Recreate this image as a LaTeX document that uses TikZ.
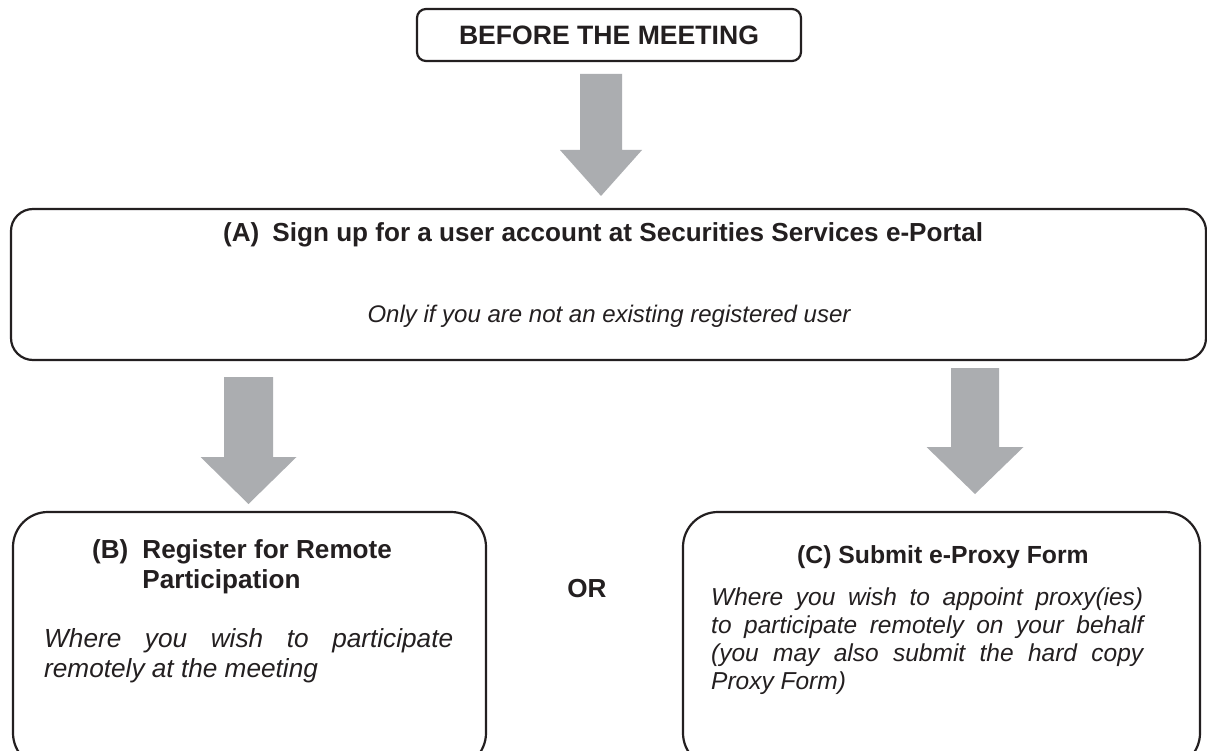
\documentclass[tikz,border=0pt]{standalone}
\usepackage{fontspec}
\setmainfont{Liberation Sans}
\usetikzlibrary{calc}

\definecolor{inkline}{RGB}{35,31,32}
\definecolor{arrowgrey}{RGB}{171,173,176}

\tikzset{
	stage/.style={draw=inkline,line width=2.2pt,rounded corners=#1,inner sep=0pt},
	stage/.default=20pt,
	title/.style={font=\fontsize{26.1}{30}\selectfont\bfseries,text=inkline,inner sep=0pt},
	note/.style={font=\fontsize{24.5}{30}\selectfont\itshape,text=inkline,inner sep=0pt},
}

\newcommand\blockarrow[5]{%
	\fill[arrowgrey] ($(#1)+(-#3,0)$) -- ($(#1)+(#3,0)$) -- ($(#2)+(#3,-#5)$) -- ($(#2)+(#4,-#5)$)
		-- (#2) -- ($(#2)+(-#4,-#5)$) -- ($(#2)+(-#3,-#5)$) -- cycle;}

\begin{document}
\begin{tikzpicture}[x=1pt,y=-1pt]
	\path[use as bounding box,fill=white] (0,0) rectangle (1207,751);
	\clip (0,0) rectangle (1207,751);
	\node[stage=9pt,title,font=\fontsize{26.6}{30}\selectfont\bfseries,minimum width=384pt,minimum height=52pt] (before) at (609,35) {BEFORE THE MEETING};
	\node[stage=22pt,minimum width=1195pt,minimum height=151pt] (signup) at (608.5,284.5) {};
	\node[stage=35pt,minimum width=473pt,minimum height=256pt] (remote) at (249.5,640) {};
	\node[stage=35pt,minimum width=517pt,minimum height=256pt] (proxy) at (941.5,640) {};
	\node[title,anchor=base west] (signuptitle) at (223,242) {(A)\hspace{0.5em}Sign up for a user account at Securities Services e-Portal};
	\node[note,anchor=base,font=\fontsize{24}{30}\selectfont\itshape] (signupnote) at (609,322) {Only if you are not an existing registered user};
	\node[title,anchor=base west] (remotetitle) at (92,558) {\begin{tabular}[t]{@{}l@{\hspace{14pt}}l@{}}(B) & Register for Remote\\ & Participation\end{tabular}};
	\node[note,anchor=base west,font=\fontsize{26.2}{30}\selectfont\itshape] (remotenote) at (44,647) {\parbox[t]{409pt}{\makebox[409pt][s]{Where you wish to participate}\\ remotely at the meeting}};
	\node[title,anchor=base west,font=\fontsize{24.75}{30}\selectfont\bfseries] (proxytitle) at (797,563) {(C) Submit e-Proxy Form};
	\node[note,anchor=base west,font=\fontsize{24.5}{28.3}\selectfont\itshape] (proxynote) at (711,605) {\parbox[t]{432pt}{\makebox[432pt][s]{Where you wish to appoint proxy(ies)}\\ \makebox[432pt][s]{to participate remotely on your behalf}\\ \makebox[432pt][s]{(you may also submit the hard copy}\\ Proxy Form)}};
	\node[title,anchor=base] (or) at (587,597) {OR};
	\coordinate (down1top) at (601,74);
	\coordinate (down1tip) at (601,196);
	\coordinate (down2top) at (248.5,377);
	\coordinate (down2tip) at (248.5,504);
	\coordinate (down3top) at (975,368);
	\coordinate (down3tip) at (975,494);
	\blockarrow{down1top}{down1tip}{21}{41}{46}
	\blockarrow{down2top}{down2tip}{24.5}{48}{47}
	\blockarrow{down3top}{down3tip}{24}{48.5}{47}
\end{tikzpicture}
\end{document}
